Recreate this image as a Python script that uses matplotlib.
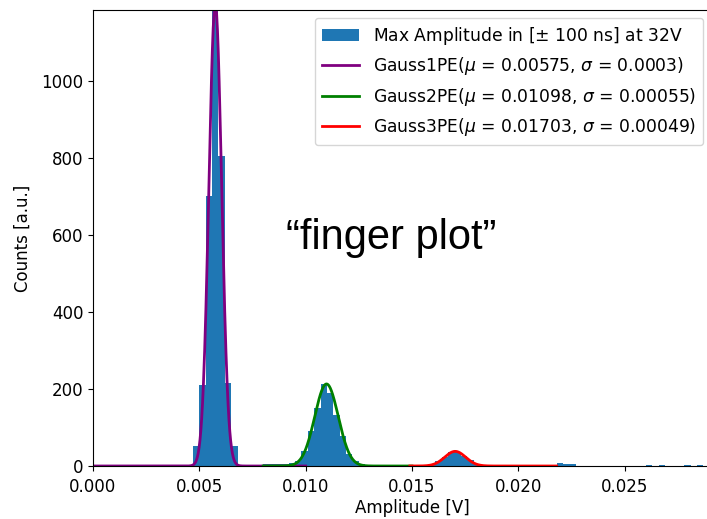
import numpy as np
import matplotlib
matplotlib.use("Agg")
import matplotlib.pyplot as plt

# histogram: left edges of the non-empty bins (width 0.0003 V) and their counts
bin_width = 0.0003
bin_left = [0.0047, 0.0050, 0.0053, 0.0056, 0.0059, 0.0062, 0.0065,
            0.0080, 0.0083, 0.0086, 0.0089, 0.0092, 0.0095, 0.0098, 0.0101,
            0.0104, 0.0107, 0.0110, 0.0113, 0.0116, 0.0119, 0.0122, 0.0125, 0.0128,
            0.0155, 0.0158, 0.0161, 0.0164, 0.0167, 0.0170, 0.0173, 0.0176,
            0.0179, 0.0182,
            0.0218, 0.0221, 0.0224,
            0.0260, 0.0266, 0.0278, 0.0284]
counts = [52, 210, 700, 1195, 805, 216, 52,
          4, 5, 5, 6, 8, 14, 38, 92,
          150, 212, 190, 132, 78, 32, 12, 4, 2,
          2, 5, 12, 24, 36, 37, 27, 15,
          6, 2,
          9, 5, 5,
          3, 3, 3, 3]

# fit results (legend) and the peak heights
fits = [
    ("Gauss1PE", 0.00575, 0.0003, 1200, 0.0000, 0.0100, "purple"),
    ("Gauss2PE", 0.01098, 0.00055, 213, 0.0080, 0.0150, "green"),
    ("Gauss3PE", 0.01703, 0.00049, 38, 0.0149, 0.0218, "red"),
]

fig = plt.figure(figsize=(7.07, 5.19), dpi=100)
ax = fig.add_axes([93 / 707, 53 / 519, 638 / 707, 456 / 519])

edges = np.round(np.arange(0.0047, 0.0290 + 1e-9, bin_width), 5)
ax.hist(bin_left, bins=edges, weights=counts, color="#1f77b4",
        label=r"Max Amplitude in [$\pm$ 100 ns] at 32V")

for name, mu, sigma, amp, x0, x1, col in fits:
    x = np.linspace(x0, x1, 500)
    y = amp * np.exp(-(x - mu) ** 2 / (2 * sigma ** 2))
    ax.plot(x, y, color=col, lw=2,
            label=r"%s($\mu$ = %s, $\sigma$ = %s)" % (name, mu, sigma))

ax.set_xlim(0, 0.030)
ax.set_ylim(0, 1184)
ax.set_xticks([0.000, 0.005, 0.010, 0.015, 0.020, 0.025])
ax.set_xticklabels(["0.000", "0.005", "0.010", "0.015", "0.020", "0.025"])
ax.set_yticks([0, 200, 400, 600, 800, 1000])
ax.tick_params(labelsize=12)
ax.tick_params(axis="x", pad=5)
ax.set_xlabel("Amplitude [V]", fontsize=12, labelpad=2)
ax.set_ylabel("Counts [a.u.]", fontsize=12, labelpad=7)

ax.legend(loc="upper right", bbox_to_anchor=(703 / 707, 1 - 18 / 519),
          bbox_transform=fig.transFigure, borderaxespad=0, fontsize=12.3,
          handlelength=2.2, labelspacing=0.5)

fig.text(391 / 707, 1 - 238 / 519, "\u201cfinger plot\u201d", fontsize=30,
         family="Liberation Sans", ha="center", va="center")

fig.savefig("out.png", dpi=100)
